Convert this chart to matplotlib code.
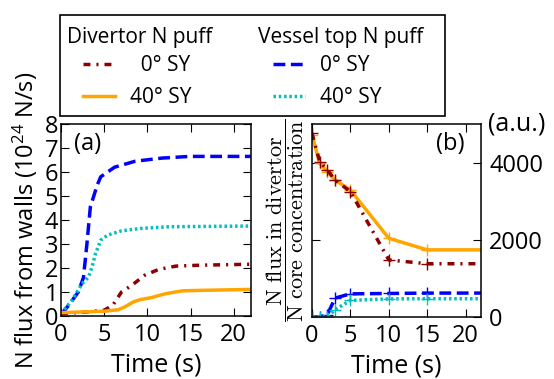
import numpy as np
import matplotlib
matplotlib.use('Agg')
import matplotlib.pyplot as plt
from matplotlib.lines import Line2D
from matplotlib.patches import Rectangle

plt.rcParams['font.family'] = ['Open Sans', 'DejaVu Sans']
plt.rcParams['mathtext.fontset'] = 'custom'
plt.rcParams['mathtext.rm'] = 'Open Sans'
plt.rcParams['mathtext.it'] = 'Open Sans:italic'
plt.rcParams['mathtext.bf'] = 'Open Sans:bold'
plt.rcParams['lines.scale_dashes'] = False

# panel (a): N flux from walls (1e24 N/s)
t_div0 = [0, 3.0, 5.0, 6.0, 7.0, 8.2, 9.7, 11.3, 13.3, 16.4, 22.5]
div0 = [0.10, 0.17, 0.24, 0.45, 1.00, 1.28, 1.70, 1.94, 2.08, 2.12, 2.16]
t_div40 = [0, 2.6, 5.0, 6.6, 7.4, 8.4, 9.15, 10.5, 12.1, 14.1, 16.4, 22.5]
div40 = [0.14, 0.17, 0.20, 0.26, 0.38, 0.59, 0.68, 0.77, 0.93, 1.05, 1.07, 1.11]
t_top0 = [0, 1.0, 2.0, 2.6, 3.0, 3.4, 4.2, 4.6, 6.2, 8.6, 11.7, 14.9, 22.5]
top0 = [0.05, 0.5, 1.0, 1.6, 3.0, 4.55, 5.46, 5.8, 6.2, 6.45, 6.58, 6.65, 6.65]
t_top40 = [0, 1.26, 2.45, 3.2, 3.6, 4.0, 4.6, 5.4, 7.0, 9.3, 12.5, 22.5]
top40 = [0.1, 0.65, 1.35, 1.63, 2.05, 2.6, 3.16, 3.37, 3.55, 3.65, 3.72, 3.75]

# panel (b): divertor flux / core concentration (a.u.)
t_b = [0, 1, 2, 3, 5, 10, 15, 25]
b_div0 = [4760, 4030, 3810, 3550, 3250, 1480, 1380, 1380]
b_div40 = [4720, 3980, 3770, 3550, 3290, 2040, 1740, 1740]
b_top0 = [0, 0, 60, 490, 600, 610, 620, 620]
b_top40 = [0, 0, 0, 190, 430, 470, 474, 474]

c_dr = '#8b0000'
c_or = '#ffa500'
c_bl = '#0000ff'
c_cy = '#00bfbf'
ls_dr = (0, (5, 4.3, 1.5, 4.3))
ls_bl = (0, (8.5, 4))
ls_cy = (0, (1.8, 2))

fig = plt.figure(figsize=(5.54, 3.79), dpi=100)
ax1 = fig.add_axes([0.1101, 0.1662, 0.343, 0.5066])
ax2 = fig.add_axes([0.5632, 0.1636, 0.305, 0.509])

ax1.plot(t_top0, top0, color=c_bl, ls=ls_bl, lw=2.5)
ax1.plot(t_top40, top40, color=c_cy, ls=ls_cy, lw=2.5)
ax1.plot(t_div0, div0, color=c_dr, ls=ls_dr, lw=2.5)
ax1.plot(t_div40, div40, color=c_or, ls='-', lw=2.5)
ax1.set_xlim(0, 22)
ax1.set_ylim(0, 8)
ax1.set_xticks([0, 5, 10, 15, 20])
ax1.set_yticks(range(9))
ax1.set_xlabel('Time (s)', fontsize=18, labelpad=4)
ax1.set_ylabel('N flux from walls (10$^{24}$ N/s)', fontsize=17, labelpad=3)
ax1.text(0.07, 0.96, '(a)', transform=ax1.transAxes, fontsize=17, ha='left', va='top')
ax1.tick_params(direction='in', top=True, right=True, length=6, width=0.8, labelsize=17)
ax1.tick_params(axis='x', pad=5)
ax1.tick_params(axis='y', pad=2)

ax2.plot(t_b, b_div40, color=c_or, ls='-', lw=2.5, marker='+', ms=8, mew=1)
ax2.plot(t_b, b_div0, color=c_dr, ls=ls_dr, lw=2.5, marker='+', ms=8, mew=1)
ax2.plot(t_b, b_top0, color=c_bl, ls=ls_bl, lw=2.5, marker='+', ms=8, mew=1)
ax2.plot(t_b, b_top40, color=c_cy, ls=ls_cy, lw=2.5, marker='+', ms=8, mew=1)
ax2.set_xlim(0, 22)
ax2.set_ylim(0, 5000)
ax2.set_xticks([0, 5, 10, 15, 20])
ax2.set_yticks([0, 2000, 4000])
ax2.set_xlabel('Time (s)', fontsize=18, labelpad=4)
ax2.set_ylabel(r'$\dfrac{\mathrm{N\ flux\ in\ divertor}}{\mathrm{N\ core\ concentration}}$',
               math_fontfamily='cm', fontsize=16, labelpad=4)
ax2.tick_params(direction='in', top=True, right=True, left=True, length=6, width=0.8,
                labelsize=17, labelleft=False, labelright=True)
ax2.tick_params(axis='x', pad=5)
ax2.tick_params(axis='y', pad=6)
ax2.text(0.90, 0.96, '(b)', transform=ax2.transAxes, fontsize=17, ha='right', va='top')
ax2.text(1.04, 1.0, '(a.u.)', transform=ax2.transAxes, fontsize=18, ha='left', va='center')

for ax in (ax1, ax2):
    for s in ax.spines.values():
        s.set_linewidth(1.1)

# legend
handles = [Line2D([], [], color=c_dr, ls=ls_dr, lw=2.5),
           Line2D([], [], color=c_or, ls='-', lw=2.5),
           Line2D([], [], color=c_bl, ls=ls_bl, lw=2.5),
           Line2D([], [], color=c_cy, ls=ls_cy, lw=2.5)]
labels = ['  0° SY', '40° SY', '0° SY', '40° SY']
fig.legend(handles, labels, ncol=2, loc='upper left',
           bbox_to_anchor=(83 / 554, 1 - 55 / 379), frameon=False,
           fontsize=15, borderpad=0, borderaxespad=0, handlelength=1.55,
           handletextpad=0.7, columnspacing=3.9, labelspacing=0.55)
fig.text(67 / 554, 1 - 43 / 379, 'Divertor N puff', fontsize=15, va='baseline')
fig.text(258 / 554, 1 - 43 / 379, 'Vessel top N puff', fontsize=15, va='baseline')
fig.add_artist(Rectangle((60 / 554, 1 - 116 / 379), 385 / 554, 101 / 379,
                         transform=fig.transFigure, fill=False, ec='black', lw=1.2))

fig.savefig('out.png', dpi=100)
